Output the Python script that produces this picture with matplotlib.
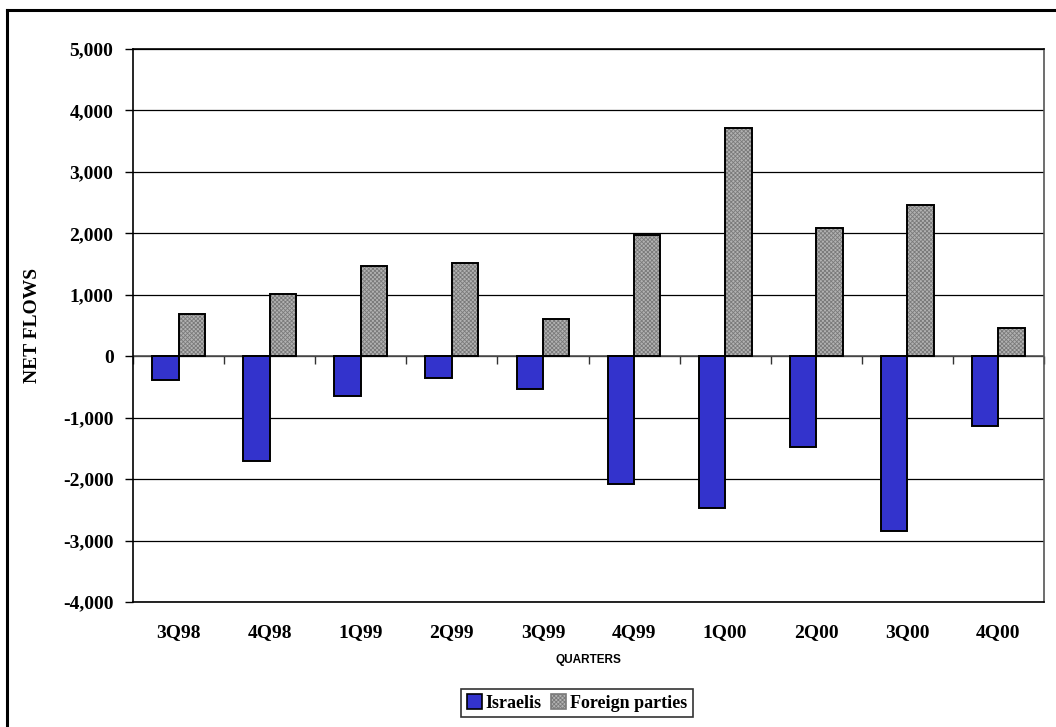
import matplotlib
matplotlib.use("Agg")
import matplotlib.pyplot as plt
import numpy as np
from matplotlib.lines import Line2D
from matplotlib.patches import Patch

quarters = ["3Q98", "4Q98", "1Q99", "2Q99", "3Q99", "4Q99", "1Q00", "2Q00", "3Q00", "4Q00"]
israelis = [-390, -1700, -650, -360, -540, -2080, -2475, -1480, -2850, -1135]
foreign = [680, 1005, 1465, 1510, 600, 1970, 3715, 2085, 2460, 455]
yticks = list(range(-4000, 5001, 1000))

plt.rcParams["hatch.linewidth"] = 0.6
serif = ["Liberation Serif", "DejaVu Serif"]
W, H = 1056, 727
fig = plt.figure(figsize=(W / 100, H / 100), dpi=100)
ax = fig.add_axes([133 / W, 1 - 602 / H, (1044 - 133) / W, (602 - 49) / H])

x = np.arange(len(quarters))
bw = 0.29
blue = "#3333cc"
grey_face = "#b2b2b2"
grey_dot = "#7a7a7a"
ax.bar(x - bw / 2, israelis, width=bw, color=blue, edgecolor="black", linewidth=1.4, zorder=3)
# dotted grey fill, then an outline on top
ax.bar(x + bw / 2, foreign, width=bw, color=grey_face, edgecolor=grey_dot, hatch="xxxxxxxx",
       linewidth=0, zorder=3)
ax.bar(x + bw / 2, foreign, width=bw, fill=False, edgecolor="black", linewidth=1.4, zorder=4)

ax.set_xlim(-0.5, len(quarters) - 0.5)
ax.set_ylim(yticks[0], yticks[-1])
ax.set_yticks(yticks)
ax.set_yticklabels([f"{v:,}" for v in yticks], fontfamily=serif, fontweight="bold", fontsize=14)
ax.tick_params(axis="y", direction="out", length=6, width=1, pad=8)
ax.yaxis.grid(True, color="black", linewidth=0.9, zorder=0)
ax.set_axisbelow(True)

ax.set_xticks(x)
ax.set_xticklabels(quarters, fontfamily=serif, fontweight="bold", fontsize=14)
ax.tick_params(axis="x", length=0, pad=16)

for s in ["top", "right", "bottom", "left"]:
    ax.spines[s].set_linewidth(1.2)
    ax.spines[s].set_color("black")
ax.spines["right"].set_color("#555555")

# zero line with category separators
ax.axhline(0, color="#555555", linewidth=1.2, zorder=2)
zero_frac = (0 - yticks[0]) / (yticks[-1] - yticks[0])
sec = ax.secondary_xaxis(zero_frac)
sec.set_xticks(np.arange(-0.5, len(quarters), 1.0))
sec.tick_params(axis="x", direction="out", length=6, width=1, labelbottom=False, labeltop=False,
                bottom=True, top=False, color="#333333")
sec.spines["bottom"].set_visible(False)
sec.spines["top"].set_visible(False)

ax.set_xlabel("QUARTERS", fontfamily="Liberation Sans", fontweight="bold", fontsize=8.5, labelpad=9)
ax.set_ylabel("NET FLOWS", fontfamily=serif, fontweight="bold", fontsize=14, labelpad=16)

handles = [Patch(facecolor=blue, edgecolor="black", linewidth=1.2),
           Patch(facecolor=grey_face, edgecolor=grey_dot, hatch="xxxxxxxx", linewidth=1.2)]
leg = fig.legend(handles, ["Israelis", "Foreign parties"], loc="center",
                 bbox_to_anchor=(577 / W, 1 - 703 / H), ncol=2, frameon=True, fancybox=False,
                 edgecolor="black", prop={"family": serif, "weight": "bold", "size": 13},
                 handlelength=0.85, handleheight=0.85, handletextpad=0.2, columnspacing=0.5,
                 borderpad=0.3, borderaxespad=0)
leg.get_frame().set_linewidth(1.2)

# outer chart border
fig.add_artist(Line2D([7 / W, 7 / W], [0, 1 - 10 / H], color="black", linewidth=2.2))
fig.add_artist(Line2D([7 / W, 1], [1 - 10 / H, 1 - 10 / H], color="black", linewidth=2.2))

fig.savefig("out.png", dpi=100)
